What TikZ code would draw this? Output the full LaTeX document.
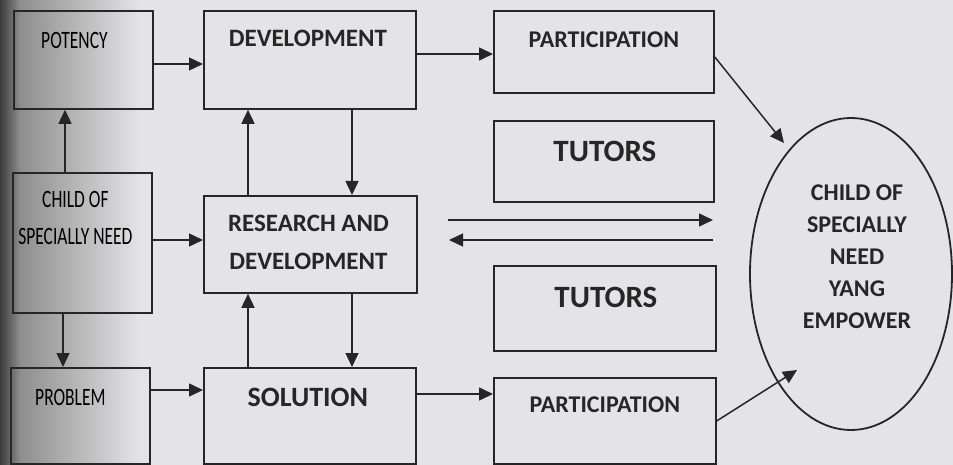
\documentclass[tikz,border=0pt]{standalone}
\usepackage{fontspec}
\setmainfont{Carlito}
\usetikzlibrary{arrows.meta}
\usetikzlibrary{shapes.geometric}

\definecolor{paper}{HTML}{E4E4E6}
\definecolor{paperdark}{HTML}{3C3C3C}
\definecolor{papermid}{HTML}{8E8E8E}
\definecolor{ink}{HTML}{262626}

\tikzset{
  box/.style={draw=ink,line width=1.8pt,anchor=north west,inner sep=0pt},
  arr/.style={draw=ink,line width=1.5pt,-{Triangle[length=14pt,width=13pt]}},
  lefttext/.style={text=black,font=\fontsize{25}{37}\selectfont,align=center},
  midtext/.style={text=ink,font=\fontsize{25}{38}\selectfont\bfseries,align=center},
  ringtext/.style={text=ink,font=\fontsize{24}{32}\selectfont\bfseries,align=center}
}
\newcommand{\narrow}[1]{\scalebox{0.7}[1]{#1}}

\begin{document}
\begin{tikzpicture}[x=1pt,y=-1pt]

\def\ax{13} \def\bx{203} \def\cx{493}
\def\ay{10} \def\by{172} \def\cy{195} \def\dy{367} \def\ey{120} \def\fy{265} \def\gy{377}

% paper
\fill[paper] (0,0) rectangle (953,465);
\shade[left color=paperdark,right color=papermid] (0,0) rectangle (20,465);
\shade[left color=papermid,right color=paper] (20,0) rectangle (140,465);
\useasboundingbox (0,0) rectangle (953,465);

\node [box,minimum width=139,minimum height=98] (pot) at (\ax,\ay) {};
\node [box,minimum width=139,minimum height=140] (need) at (\ax-1,\by) {};
\node [box,minimum width=139,minimum height=96] (prob) at (\ax-3,\dy) {};

\node [box,minimum width=212,minimum height=98] (dev) at (\bx,\ay) {};
\node [box,minimum width=213,minimum height=97] (rnd) at (\bx,\cy) {};
\node [box,minimum width=212,minimum height=96] (sol) at (\bx,\dy) {};

\node [box,minimum width=220,minimum height=82] (par1) at (\cx,\ay) {};
\node [box,minimum width=220,minimum height=81] (tut1) at (\cx,\ey) {};
\node [box,minimum width=222,minimum height=85] (tut2) at (\cx,\fy) {};
\node [box,minimum width=222,minimum height=86] (par2) at (\cx,\gy) {};

\node [draw=ink,line width=1.8pt,ellipse,minimum width=202,minimum height=312] (ell) at (851,274) {};

% texts
\node [lefttext] (potT) at ([xshift=-9,yshift=-30]pot.north) {\narrow{POTENCY}};
\node [lefttext] (needT) at ([xshift=-7,yshift=-46]need.north) {\narrow{CHILD OF}\\\narrow{SPECIALLY NEED}};
\node [lefttext] (probT) at ([xshift=-10,yshift=-30]prob.north) {\narrow{PROBLEM}};

\node [midtext] (devT) at ([xshift=-2,yshift=-28]dev.north) {DEVELOPMENT};
\node [midtext] (rndT) at ([xshift=-2,yshift=-47]rnd.north) {RESEARCH AND\\DEVELOPMENT};
\node [midtext,font=\fontsize{28}{34}\selectfont\bfseries] (solT) at ([xshift=-2,yshift=-30]sol.north) {SOLUTION};

\node [midtext,font=\fontsize{24}{30}\selectfont\bfseries] (par1T) at ([yshift=-30]par1.north) {PARTICIPATION};
\node [midtext,font=\fontsize{31}{36}\selectfont\bfseries] (tut1T) at ([xshift=1,yshift=-31]tut1.north) {TUTORS};
\node [midtext,font=\fontsize{31}{36}\selectfont\bfseries] (tut2T) at ([xshift=1,yshift=-32]tut2.north) {TUTORS};
\node [midtext,font=\fontsize{24}{30}\selectfont\bfseries] (par2T) at ([yshift=-28]par2.north) {PARTICIPATION};

\node [ringtext] (ellT) at (857,257) {CHILD OF\\SPECIALLY\\NEED\\YANG\\EMPOWER};

% arrows
\draw [arr] ([yshift=-54]pot.north east) -- ([yshift=-54]dev.north west);
\draw [arr] ([xshift=53]need.north west) -- ([xshift=52]pot.south west);
\draw [arr] ([yshift=-68]need.north east) -- ([yshift=-45]rnd.north west);
\draw [arr] ([xshift=51]need.south west) -- ([xshift=53]prob.north west);
\draw [arr] ([yshift=-23]prob.north east) -- ([yshift=-23]sol.north west);

\draw [arr] ([xshift=45]rnd.north west) -- ([xshift=45]dev.south west);
\draw [arr] ([xshift=149]dev.south west) -- ([xshift=149]rnd.north west);
\draw [arr] ([xshift=45]sol.north west) -- ([xshift=45]rnd.south west);
\draw [arr] ([xshift=149]rnd.south west) -- ([xshift=149]sol.north west);

\draw [arr] ([yshift=-44]dev.north east) -- ([yshift=-44]par1.north west);
\draw [arr] ([yshift=-27]sol.north east) -- ([yshift=-17]par2.north west);

\coordinate (tipA) at (784,143);
\coordinate (tipB) at (797,370);
\draw [arr] ([yshift=-47]par1.north east) -- (tipA);
\draw [arr] (par2.east) -- (tipB);

\coordinate (inL) at (448,220);
\coordinate (inR) at (713,220);
\coordinate (outR) at (713,240);
\coordinate (outL) at (449,240);
\draw [arr] (inL) -- (inR);
\draw [arr] (outR) -- (outL);
\end{tikzpicture}
\end{document}
